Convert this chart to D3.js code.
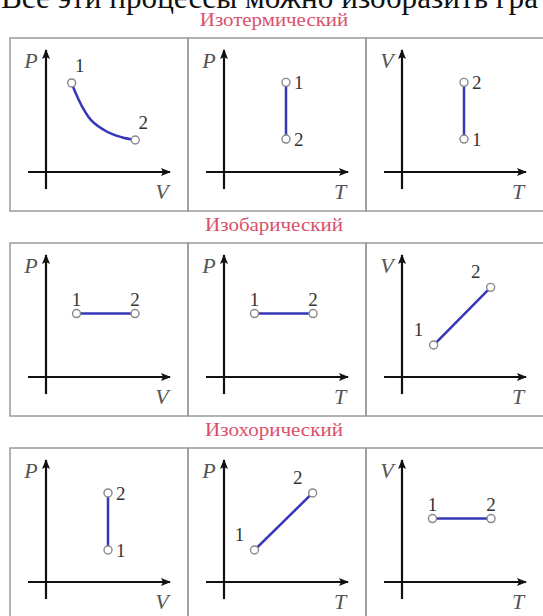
<!DOCTYPE html>
<html>
<head>
<meta charset="utf-8">
<script src="https://cdn.jsdelivr.net/npm/d3@7/dist/d3.min.js"></script>
<style>
  body { margin: 0; background: #fff; }
  svg { display: block; }
  text { font-family: "Liberation Serif", "DejaVu Serif", serif; }
</style>
</head>
<body>
<div class="canvas"></div>
<script>
// Header line (cut off at the top in the original)
const headerText = 'Все эти процессы можно изобразить гра'

// Row titles
const rowTitles = ['Изотермический', 'Изобарический', 'Изохорический']

// Axis names per column: [x, y]
const axisNames = [['V', 'P'], ['T', 'P'], ['T', 'V']]

// Process curves, values in axis units (0..10), first = state 1, last = state 2
const isothermPV = [[2.07, 7.3], [2.4, 6.45], [3.4, 4.55], [4.75, 3.4], [6.1, 2.85], [7.2, 2.62]]
const isothermPT = [[5.0, 7.35], [5.0, 2.7]]
const isothermVT = [[5.0, 2.7], [5.0, 7.35]]
const isobarPV = [[2.46, 5.2], [7.18, 5.2]]
const isobarPT = [[2.46, 5.2], [7.18, 5.2]]
const isobarVT = [[2.55, 2.62], [7.15, 7.35]]
const isochorPV = [[5.0, 2.62], [5.0, 7.3]]
const isochorPT = [[2.46, 2.62], [7.15, 7.3]]
const isochorVT = [[2.46, 5.2], [7.18, 5.2]]

const processes = [
  [isothermPV, isothermPT, isothermVT],
  [isobarPV, isobarPT, isobarVT],
  [isochorPV, isochorPT, isochorVT]
]

// where the "1" / "2" labels sit relative to their point
const labelSides = [
  ['aboveRight', 'right', 'right'],
  ['above', 'above', 'aboveLeft'],
  ['right', 'aboveLeft', 'above']
]

const sideOffset = {
  above:      { dx: 0,   dy: -8, anchor: 'middle' },
  aboveRight: { dx: 8,   dy: -11, anchor: 'middle' },
  aboveLeft:  { dx: -15, dy: -9, anchor: 'middle' },
  right:      { dx: 8,   dy: 7,  anchor: 'start' }
}

const svg = d3.select('.canvas')
  .append('svg')
  .attr('width', 543)
  .attr('height', 616)

// arrow head marker
svg.append('defs').append('marker')
  .attr('id', 'arrow')
  .attr('viewBox', '0 0 10 8')
  .attr('refX', 9)
  .attr('refY', 4)
  .attr('markerWidth', 10)
  .attr('markerHeight', 8)
  .attr('markerUnits', 'userSpaceOnUse')
  .attr('orient', 'auto')
  .append('path')
    .attr('d', 'M0,0 L10,4 L0,8 L2,4 Z')
    .attr('fill', '#111')

svg.append('text')
  .attr('x', 1)
  .attr('y', 8)
  .style('font-size', '31px')
  .attr('fill', '#111')
  .attr('textLength', 537)
  .attr('lengthAdjust', 'spacingAndGlyphs')
  .text(headerText)

const panelLeft = [10, 188, 366]
const panelW = 178
const rowTop = [38, 243, 448]
const rowH = 173

const line = d3.line().curve(d3.curveMonotoneX)

rowTitles.forEach((title, r) => {
  const top = rowTop[r]

  svg.append('text')
    .attr('x', 274)
    .attr('y', top - 12)
    .attr('text-anchor', 'middle')
    .style('font-size', '18px')
    .attr('fill', '#d9506b')
    .attr('textLength', title.length * 10.6)
    .attr('lengthAdjust', 'spacingAndGlyphs')
    .text(title)

  panelLeft.forEach((left, c) => {
    const g = svg.append('g')

    g.append('rect')
      .attr('x', left)
      .attr('y', top)
      .attr('width', panelW)
      .attr('height', rowH)
      .attr('fill', 'none')
      .attr('stroke', '#9b9b9b')
      .attr('stroke-width', 1.5)

    const x = d3.scaleLinear().domain([0, 10]).range([left + 36, left + 160])
    const y = d3.scaleLinear().domain([0, 10]).range([top + 134, top + 12])

    // axes
    g.append('line')
      .attr('x1', x(-1.45)).attr('y1', y(0))
      .attr('x2', x(10)).attr('y2', y(0))
      .attr('stroke', '#111').attr('stroke-width', 2.2)
      .attr('marker-end', 'url(#arrow)')
    g.append('line')
      .attr('x1', x(0)).attr('y1', y(-1.4))
      .attr('x2', x(0)).attr('y2', y(10))
      .attr('stroke', '#111').attr('stroke-width', 2.2)
      .attr('marker-end', 'url(#arrow)')

    // axis names
    g.append('text')
      .attr('x', left + 21)
      .attr('y', top + 30)
      .attr('text-anchor', 'middle')
      .style('font-style', 'italic')
      .style('font-size', '22px')
      .attr('fill', '#555')
      .text(axisNames[c][1])
    g.append('text')
      .attr('x', left + 152)
      .attr('y', top + 161)
      .attr('text-anchor', 'middle')
      .style('font-style', 'italic')
      .style('font-size', '22px')
      .attr('fill', '#555')
      .text(axisNames[c][0])

    // process line
    const pts = processes[r][c]
    g.append('path')
      .attr('d', line(pts.map(p => [x(p[0]), y(p[1])])))
      .attr('fill', 'none')
      .attr('stroke', '#3636b8')
      .attr('stroke-width', 2.5)

    const ends = [pts[0], pts[pts.length - 1]]
    const off = sideOffset[labelSides[r][c]]

    g.selectAll('circle')
      .data(ends)
      .enter()
      .append('circle')
        .attr('cx', p => x(p[0]))
        .attr('cy', p => y(p[1]))
        .attr('r', 4)
        .attr('fill', '#fff')
        .attr('stroke', '#888')
        .attr('stroke-width', 1.4)

    g.selectAll('text.num')
      .data(ends)
      .enter()
      .append('text')
        .attr('class', 'num')
        .attr('x', p => x(p[0]) + off.dx)
        .attr('y', p => y(p[1]) + off.dy)
        .attr('text-anchor', off.anchor)
        .style('font-size', '19px')
        .attr('fill', '#333')
        .text((p, i) => i + 1)
  })
})
</script>
</body>
</html>
